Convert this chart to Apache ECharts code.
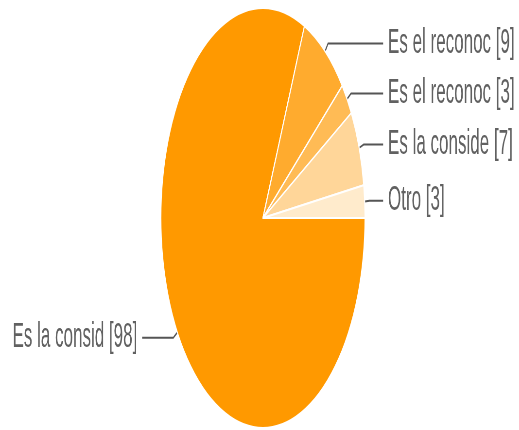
<!DOCTYPE html>
<html>
<head>
<meta charset="utf-8">
<script src="https://cdn.jsdelivr.net/npm/echarts@6/dist/echarts.min.js"></script>
<style>
  html, body { margin: 0; padding: 0; background: #fff; overflow: hidden; width: 519px; height: 430px; }
  /* the source picture is squashed horizontally, so draw wide and compress */
  #chart { width: 1200px; height: 430px; transform: scaleX(0.486); transform-origin: 0 0; }
</style>
</head>
<body>
<div id="chart"></div>
<script>
// slices in clockwise order from 3 o'clock
const names = ['Es la consid', 'Es el reconoc', 'Es el reconoc', 'Es la conside', 'Otro']
const counts = [98, 9, 3, 7, 3]
const colors = ['#ff9900', '#ffab2e', '#ffbb55', '#ffd699', '#ffebcc']

const chart = echarts.init(document.getElementById('chart'))

const data = names.map((n, i) => {
  const item = { name: n, value: counts[i], itemStyle: { color: colors[i] } }
  if (i === 0) item.labelLine = { length2: 64 }
  return item
})

chart.setOption({
  animation: false,
  backgroundColor: '#fff',
  series: [
    {
      type: 'pie',
      center: [541, 218],
      radius: 210,
      startAngle: 0,
      clockwise: true,
      silent: true,
      itemStyle: { borderColor: '#fff', borderWidth: 2 },
      label: {
        formatter: '{b} [{c}]',
        color: '#616161',
        fontFamily: 'Liberation Sans, Arial, sans-serif',
        fontSize: 35,
        overflow: 'none',
        alignTo: 'labelLine',
        distanceToLabelLine: 10,
      },
      labelLine: {
        length: 10,
        length2: 28,
        lineStyle: { color: '#555', width: 2 },
      },
      data,
    },
  ],
})
</script>
</body>
</html>
